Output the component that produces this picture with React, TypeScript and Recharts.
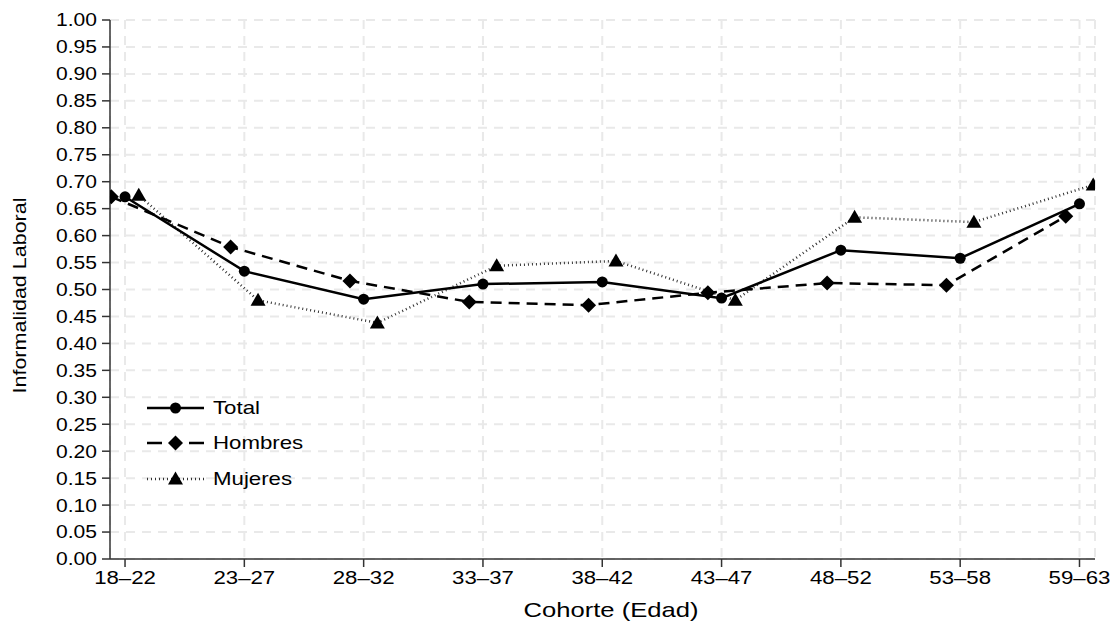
import React from 'react'
import { LineChart, Line, XAxis, YAxis, CartesianGrid, Legend } from 'recharts'

const categories = ['18–22', '23–27', '28–32', '33–37', '38–42', '43–47', '48–52', '53–58', '59–63']
const total = [0.672, 0.534, 0.482, 0.51, 0.514, 0.484, 0.573, 0.558, 0.659]
const hombres = [0.672, 0.579, 0.516, 0.477, 0.471, 0.494, 0.512, 0.508, 0.636]
const mujeres = [0.675, 0.48, 0.438, 0.544, 0.553, 0.48, 0.634, 0.625, 0.694]
const yTicks = [
  0, 0.05, 0.1, 0.15, 0.2, 0.25, 0.3, 0.35, 0.4, 0.45, 0.5,
  0.55, 0.6, 0.65, 0.7, 0.75, 0.8, 0.85, 0.9, 0.95, 1,
]
const xTicks = [0, 1, 2, 3, 4, 5, 6, 7, 8]

// horizontal dodge of each series around its category
const DODGE = 0.115

const toPoints = (values: number[], shift: number) =>
  values.map((v, i) => ({ x: i + shift, y: v }))

const FONT = '"Liberation Sans", Arial, sans-serif'
// the reference font is wider than Arial
const WIDE = 1.17

const Circle = (props: any) => {
  const { cx, cy } = props
  if (cx == null || cy == null) return null
  return <circle cx={cx} cy={cy} r={5.5} fill="#000" />
}

const Diamond = (props: any) => {
  const { cx, cy } = props
  if (cx == null || cy == null) return null
  const s = 7.5
  return <polygon points={`${cx},${cy - s} ${cx + s},${cy} ${cx},${cy + s} ${cx - s},${cy}`} fill="#000" />
}

const Triangle = (props: any) => {
  const { cx, cy } = props
  if (cx == null || cy == null) return null
  return <polygon points={`${cx},${cy - 7.5} ${cx + 7.5},${cy + 5.5} ${cx - 7.5},${cy + 5.5}`} fill="#000" />
}

const XTick = (props: any) => {
  const { x, y, payload } = props
  return (
    <g transform={`translate(${x},${y}) scale(${WIDE},1)`}>
      <text x={0} y={0} dy="0.71em" textAnchor="middle" fontSize={19} fontFamily={FONT} fill="#000">
        {categories[payload.value]}
      </text>
    </g>
  )
}

const YTick = (props: any) => {
  const { x, y, payload } = props
  return (
    <g transform={`translate(${x},${y}) scale(${WIDE},1)`}>
      <text x={0} y={0} dy="0.355em" textAnchor="end" fontSize={18} fontFamily={FONT} fill="#000">
        {Number(payload.value).toFixed(2)}
      </text>
    </g>
  )
}

const legendItems = [
  { name: 'Total', dash: undefined, color: '#000', Mark: Circle },
  { name: 'Hombres', dash: '15 27', color: '#000', Mark: Diamond },
  { name: 'Mujeres', dash: '1 3', color: '#333', Mark: Triangle },
]

const LegendBox = () => (
  <div style={{ fontFamily: FONT, fontSize: 19, color: '#000' }}>
    {legendItems.map((it) => (
      <div key={it.name} style={{ display: 'flex', alignItems: 'center', height: 35.5 }}>
        <svg width={64} height={20}>
          <line x1={0} y1={10} x2={57} y2={10} stroke={it.color} strokeWidth={2.5} strokeDasharray={it.dash} />
          <it.Mark cx={28.5} cy={10} />
        </svg>
        <span style={{ marginLeft: 2, display: 'inline-block', transform: `scaleX(${WIDE})`, transformOrigin: 'left center' }}>
          {it.name}
        </span>
      </div>
    ))}
  </div>
)

export default function App() {
  return (
    <div style={{ position: 'absolute', left: 0, top: 0 }}>
      <LineChart width={1115} height={627} margin={{ top: 20, right: 20, left: 0, bottom: 0 }}>
        <CartesianGrid stroke="#e9e9e9" strokeWidth={2} strokeDasharray="9 7" />
        <XAxis
          type="number"
          dataKey="x"
          domain={[-0.126, 8.13]}
          ticks={xTicks}
          allowDataOverflow
          interval={0}
          height={68}
          tickSize={8}
          tickMargin={4}
          stroke="#333"
          strokeWidth={1.5}
          tick={<XTick />}
          label={{
            content: (p: any) => {
              const vb = p.viewBox
              return (
                <text
                  x={vb.x + vb.width / 2 - 79}
                  y={vb.y + 58}
                  textLength={175}
                  lengthAdjust="spacingAndGlyphs"
                  fontSize={21}
                  fontFamily={FONT}
                  fill="#000"
                >
                  Cohorte (Edad)
                </text>
              )
            },
          }}
        />
        <YAxis
          type="number"
          domain={[0, 1]}
          ticks={yTicks}
          interval={0}
          width={110}
          tickSize={8}
          tickMargin={5}
          stroke="#333"
          strokeWidth={1.5}
          tick={<YTick />}
          label={{
            content: (p: any) => {
              const vb = p.viewBox
              const cx = vb.x + 20
              const cy = vb.y + vb.height / 2 + 6
              return (
                <text
                  x={cx - 98}
                  y={cy}
                  transform={`rotate(-90 ${cx} ${cy})`}
                  textLength={196}
                  lengthAdjust="spacingAndGlyphs"
                  dominantBaseline="central"
                  fontSize={18}
                  fontFamily={FONT}
                  fill="#000"
                >
                  Informalidad Laboral
                </text>
              )
            },
          }}
        />
        <Legend
          layout="horizontal"
          align="center"
          verticalAlign="middle"
          wrapperStyle={{ left: 147, top: 390, width: 'auto' }}
          content={() => <LegendBox />}
        />
        <Line
          data={toPoints(mujeres, DODGE)}
          dataKey="y"
          name="Mujeres"
          stroke="#333"
          strokeWidth={2.5}
          strokeDasharray="1 3"
          dot={<Triangle />}
          activeDot={false}
          isAnimationActive={false}
        />
        <Line
          data={toPoints(hombres, -DODGE)}
          dataKey="y"
          name="Hombres"
          stroke="#000"
          strokeWidth={2.5}
          strokeDasharray="11 7"
          dot={<Diamond />}
          activeDot={false}
          isAnimationActive={false}
        />
        <Line
          data={toPoints(total, 0)}
          dataKey="y"
          name="Total"
          stroke="#000"
          strokeWidth={2.5}
          dot={<Circle />}
          activeDot={false}
          isAnimationActive={false}
        />
      </LineChart>
    </div>
  )
}
